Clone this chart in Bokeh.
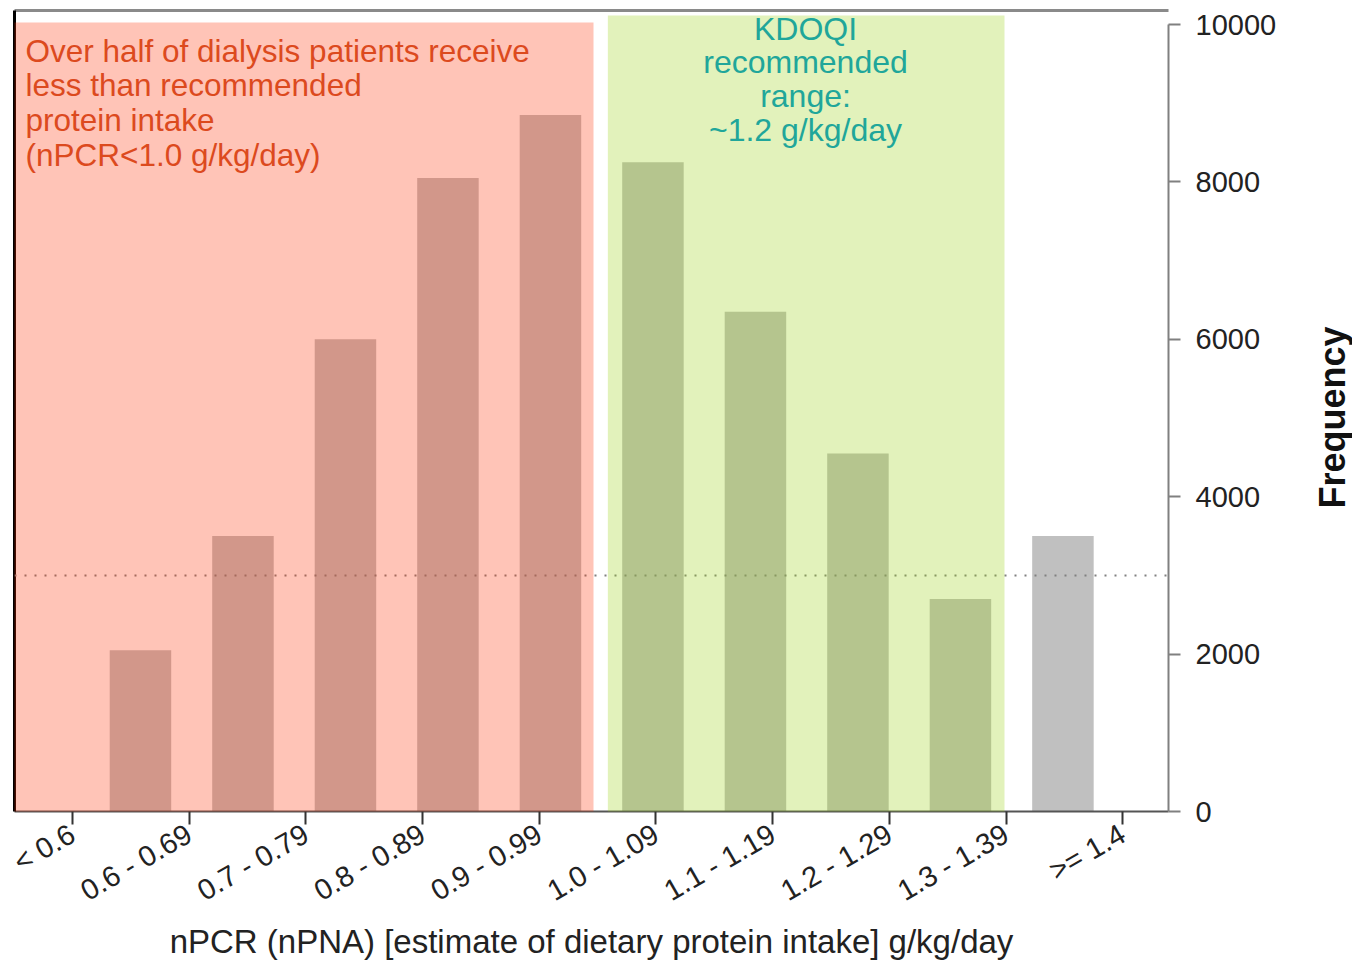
import math
from bokeh.plotting import figure
from bokeh.layouts import row
from bokeh.models import Range1d, LinearAxis, FixedTicker, BoxAnnotation, Span, Label
from bokeh.embed import file_html
from bokeh.resources import INLINE

# ---------------- data ----------------
bin_labels = ["< 0.6", "0.6 - 0.69", "0.7 - 0.79", "0.8 - 0.89", "0.9 - 0.99",
              "1.0 - 1.09", "1.1 - 1.19", "1.2 - 1.29", "1.3 - 1.39", ">= 1.4"]
frequency = [2050, 3500, 6000, 8050, 8850, 8250, 6350, 4550, 2700, 3500]
bar_index = list(range(len(frequency)))
y_ticks = [0, 2000, 4000, 6000, 8000, 10000]
reference_level = 3000

low_text = "Over half of dialysis patients receive\nless than recommended\nprotein intake\n(nPCR<1.0 g/kg/day)"
kdoqi_text = "KDOQI\nrecommended\nrange:\n~1.2 g/kg/day"
x_title = "nPCR (nPNA) [estimate of dietary protein intake] g/kg/day"
y_title = "Frequency"

FONT = "Liberation Sans"
H = 963

p = figure(width=1300, height=H, output_backend="svg", toolbar_location=None,
           x_range=Range1d(-1.229, 10.03), y_range=Range1d(0, 10178),
           x_axis_location=None, y_axis_location="right",
           min_border_left=14, min_border_right=132, min_border_top=10, min_border_bottom=151)
p.outline_line_color = None
p.grid.visible = False
p.background_fill_color = "white"
p.border_fill_color = "white"

# bars
p.vbar(x=bar_index, top=frequency, bottom=0, width=0.6,
       fill_color="#C0C0C0", line_color=None)

# reference dotted line
p.add_layout(Span(location=reference_level, dimension="width",
                  line_color="#808080", line_width=2, line_dash="2 8"))

# right y axis
yax = p.yaxis[0]
yax.ticker = FixedTicker(ticks=y_ticks)
yax.bounds = (0, 10000)
yax.axis_line_color = "#808080"
yax.axis_line_width = 2
yax.major_tick_out = 12
yax.major_tick_in = 0
yax.major_tick_line_color = "#808080"
yax.major_tick_line_width = 2
yax.minor_tick_line_color = None
yax.major_label_standoff = 15
yax.major_label_text_font = FONT
yax.major_label_text_font_size = "29px"
yax.major_label_text_color = "#222222"

# bottom category axis
p.extra_x_ranges = {"bins": Range1d(-0.497, 9.392)}
xax = LinearAxis(x_range_name="bins", ticker=FixedTicker(ticks=bar_index),
                 major_label_overrides={i: lab for i, lab in zip(bar_index, bin_labels)})
xax.major_label_orientation = math.pi / 6
xax.axis_line_color = "#555555"
xax.axis_line_width = 2
xax.major_tick_out = 13
xax.major_tick_in = 0
xax.major_tick_line_color = "#333333"
xax.major_tick_line_width = 2
xax.minor_tick_line_color = None
xax.major_label_standoff = 7
xax.major_label_text_font = FONT
xax.major_label_text_font_size = "29px"
xax.major_label_text_color = "#222222"
xax.axis_label = x_title
xax.axis_label_text_font = FONT
xax.axis_label_text_font_size = "33px"
xax.axis_label_text_font_style = "normal"
xax.axis_label_text_color = "#222222"
xax.axis_label_standoff = 0
p.add_layout(xax, "below")

# top and left border lines
top_ax = LinearAxis(ticker=FixedTicker(ticks=[]), axis_line_color="#8a8a8a", axis_line_width=3,
                    major_tick_line_color=None, minor_tick_line_color=None)
p.add_layout(top_ax, "above")
left_ax = LinearAxis(ticker=FixedTicker(ticks=[]), axis_line_color="black",
                     axis_line_width=3, major_tick_line_color=None, minor_tick_line_color=None)
p.add_layout(left_ax, "left")

# shaded bands
p.add_layout(BoxAnnotation(left=-1.27, right=4.42, top=10025, bottom=-1497,
                           fill_color="#FF3407", fill_alpha=0.29, line_color=None))
p.add_layout(BoxAnnotation(left=4.56, right=8.43, top=10114, bottom=-1396,
                           fill_color="#9AD215", fill_alpha=0.29, line_color=None))

# texts
p.add_layout(Label(x=11, y=779, x_units="screen", y_units="screen", text=low_text,
                   text_font=FONT, text_font_size="31.5px", text_color="#DC4A1E",
                   text_align="left", text_baseline="top", text_line_height=0.965))
p.add_layout(Label(x=791, y=801, x_units="screen", y_units="screen", text=kdoqi_text,
                   text_font=FONT, text_font_size="32px", text_color="#20A69A",
                   text_align="center", text_baseline="top", text_line_height=0.94))

# strip holding the vertical y-axis title (its frame is aligned with the main frame)
p2 = figure(width=52, height=H, output_backend="svg", toolbar_location=None,
            x_axis_location=None, y_axis_location=None, min_border=0)
p2.outline_line_color = None
p2.grid.visible = False
p2.border_fill_color = "white"
p2.add_layout(Label(x=32, y=394, x_units="screen", y_units="screen", text=y_title,
                    angle=math.pi / 2, text_font=FONT, text_font_size="36px",
                    text_font_style="bold", text_color="#111111",
                    text_align="center", text_baseline="middle"))

layout = row(p, p2)
open("out.html", "w").write(file_html(layout, INLINE))
